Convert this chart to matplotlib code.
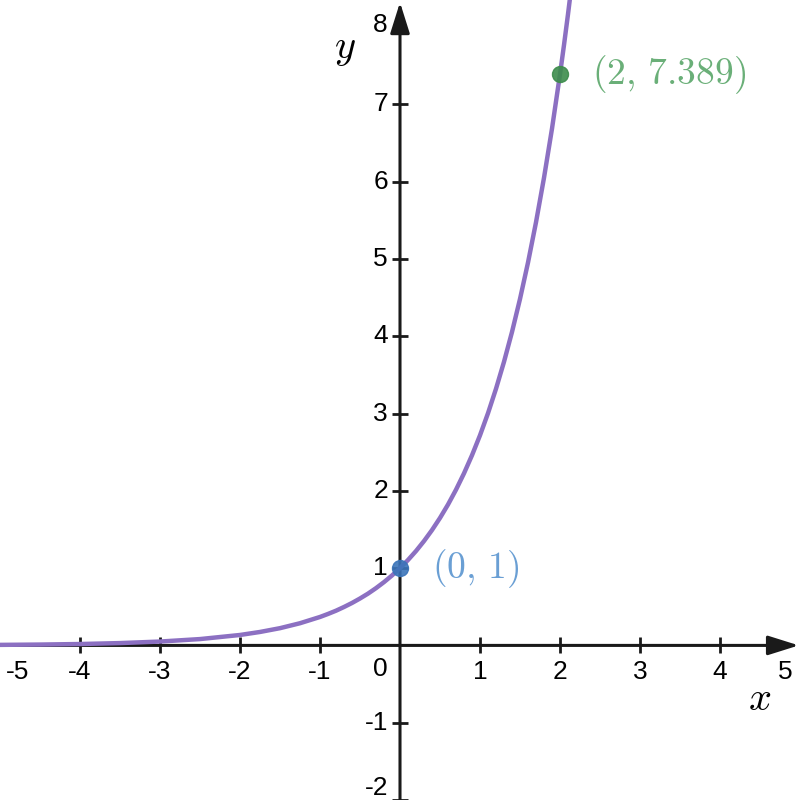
import numpy as np
import matplotlib
matplotlib.use("Agg")
import matplotlib.pyplot as plt

plt.rcParams['mathtext.fontset'] = 'cm'

curve_x = [-5, -4.5, -4, -3.5, -3, -2.5, -2, -1.75, -1.5, -1.25,
           -1, -0.9, -0.8, -0.7, -0.6, -0.5, -0.4, -0.3, -0.2, -0.1,
           0, 0.1, 0.2, 0.3, 0.4, 0.5, 0.6, 0.7, 0.8, 0.9,
           1, 1.1, 1.2, 1.3, 1.4, 1.5, 1.6, 1.7, 1.8, 1.9,
           2, 2.05, 2.1, 2.15]
curve_y = [0.007, 0.011, 0.018, 0.030, 0.050, 0.082, 0.135, 0.174, 0.223, 0.287,
           0.368, 0.407, 0.449, 0.497, 0.549, 0.607, 0.670, 0.741, 0.819, 0.905,
           1.0, 1.105, 1.221, 1.350, 1.492, 1.649, 1.822, 2.014, 2.226, 2.460,
           2.718, 3.004, 3.320, 3.669, 4.055, 4.482, 4.953, 5.474, 6.050, 6.686,
           7.389, 7.768, 8.166, 8.585]

# markierte Punkte
pt_x = [0, 2]
pt_y = [1, 7.389]
pt_labels = [r'$(0,\,1)$', r'$(2,\,7.389)$']
pt_colors = ['#3b74b9', '#3d8c4c']
pt_text_colors = ['#6a9fd4', '#6aaf78']

xticks = [-4, -3, -2, -1, 1, 2, 3, 4]
yticks = [-2, -1, 1, 2, 3, 4, 5, 6, 7]

axis_col = '#1a1a1a'
tick_font = dict(family=['Liberation Sans', 'DejaVu Sans'], fontsize=19, color='black')

fig = plt.figure(figsize=(8, 8), dpi=100)
ax = fig.add_axes([0, 0, 1, 1])
ax.set_xlim(-5, 5)
ax.set_ylim(-2.0, 8.35)
ax.axis('off')

# Achsen mit Pfeilen
ax.annotate('', xy=(4.985, 0), xytext=(-5, 0),
            arrowprops=dict(arrowstyle='-|>,head_length=1.05,head_width=0.33',
                            mutation_scale=18, lw=2.2, color=axis_col,
                            shrinkA=0, shrinkB=0), zorder=2)
ax.annotate('', xy=(0, 8.32), xytext=(0, -2.0),
            arrowprops=dict(arrowstyle='-|>,head_length=1.05,head_width=0.33',
                            mutation_scale=18, lw=2.2, color=axis_col,
                            shrinkA=0, shrinkB=0), zorder=2)

# Tick-Striche
ax.plot(xticks, [0] * len(xticks), linestyle='none', marker='|', markersize=11,
        markeredgewidth=2, color=axis_col, zorder=2)
ax.plot([0] * len(yticks), yticks, linestyle='none', marker='_', markersize=11,
        markeredgewidth=2, color=axis_col, zorder=2)

# Tick-Beschriftungen
for t in xticks:
    ax.text(t, -0.35, str(t), ha='center', va='center', **tick_font)
ax.text(-4.78, -0.35, '-5', ha='center', va='center', **tick_font)
ax.text(4.81, -0.35, '5', ha='center', va='center', **tick_font)
ax.text(-0.24, -0.30, '0', ha='center', va='center', **tick_font)
for t in yticks:
    ty = t if t > -2 else -1.85
    ax.text(-0.15, ty, str(t), ha='right', va='center', **tick_font)
ax.text(-0.15, 8.03, '8', ha='right', va='center', **tick_font)

# Achsenbeschriftung
ax.text(4.5, -0.69, r'$x$', ha='center', va='center', fontsize=29)
ax.text(-0.69, 7.73, r'$y$', ha='center', va='center', fontsize=29)

# Kurve
ax.plot(curve_x, curve_y, color='#8c70c2', lw=3.2, solid_capstyle='butt', zorder=3)

# Punkte
for x, y, lab, c, tc in zip(pt_x, pt_y, pt_labels, pt_colors, pt_text_colors):
    ax.plot(x, y, 'o', markersize=11.5, color=c, alpha=0.9, zorder=4)
    ax.annotate(lab, xy=(x, y), xytext=(23, 0), textcoords='offset points',
                ha='left', va='center', fontsize=27, color=tc)

fig.savefig('out.png', dpi=100)
